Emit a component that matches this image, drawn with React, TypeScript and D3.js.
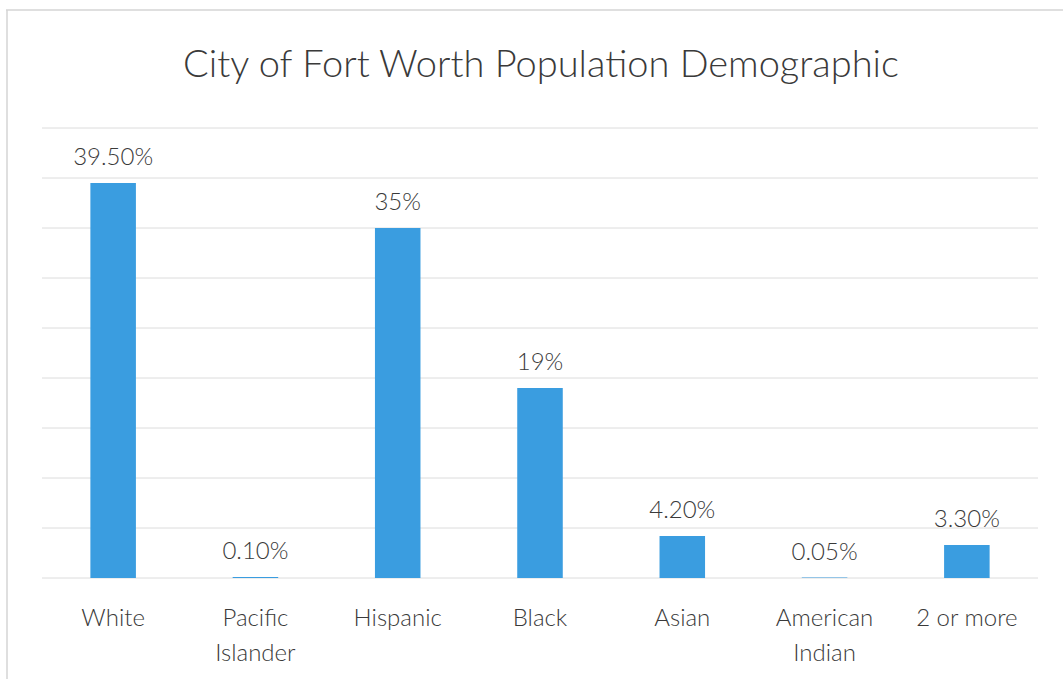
import React from "react";
import * as d3 from "d3";

const categories: string[][] = [
  ["White"],
  ["Pacific", "Islander"],
  ["Hispanic"],
  ["Black"],
  ["Asian"],
  ["American", "Indian"],
  ["2 or more"],
];
const values: number[] = [39.5, 0.1, 35, 19, 4.2, 0.05, 3.3];
const valueLabels: string[] = ["39.50%", "0.10%", "35%", "19%", "4.20%", "0.05%", "3.30%"];
const gridTicks: number[] = [0, 5, 10, 15, 20, 25, 30, 35, 40, 45];
const title = "City of Fort Worth Population Demographic";

const W = 1063;
const H = 679;
const plot = { left: 42, right: 1038, top: 128, bottom: 578 };
const font = "Lato, 'Open Sans', sans-serif";
const textColor = "#3a3a3a";
const barColor = "#3a9de0";

export default function App() {
  const keys = categories.map((c) => c.join(" "));
  const x = d3
    .scaleBand<string>()
    .domain(keys)
    .range([plot.left, plot.right])
    .paddingInner(0.68)
    .paddingOuter(0.34);
  const y = d3.scaleLinear().domain([0, 45]).range([plot.bottom, plot.top]);

  return (
    <svg
      width={W}
      height={H}
      style={{ position: "absolute", left: 0, top: 0, background: "#fff" }}
    >
      <rect x={0} y={0} width={W} height={H} fill="#fff" />
      <line x1={6} x2={W} y1={10} y2={10} stroke="#d4d4d4" strokeWidth={1.5} />
      <line x1={7} x2={7} y1={10} y2={H} stroke="#d4d4d4" strokeWidth={1.5} />
      <text
        x={541}
        y={77}
        textAnchor="middle"
        fontFamily={font}
        fontSize={38}
        fontWeight={300}
        fill={textColor}
      >
        {title}
      </text>
      {gridTicks.map((t) => (
        <line
          key={t}
          x1={plot.left}
          x2={plot.right}
          y1={y(t)}
          y2={y(t)}
          stroke="#dcdcdc"
          strokeWidth={1}
        />
      ))}
      {values.map((v, i) => {
        const k = keys[i];
        const bx = x(k)!;
        const bw = x.bandwidth();
        return (
          <g key={k}>
            <rect x={bx} y={y(v)} width={bw} height={y(0) - y(v)} fill={barColor} />
            <text
              x={bx + bw / 2}
              y={y(v) - 18}
              textAnchor="middle"
              fontFamily={font}
              fontSize={24}
              fontWeight={300}
              fill={textColor}
            >
              {valueLabels[i]}
            </text>
            {categories[i].map((line, j) => (
              <text
                key={j}
                x={bx + bw / 2}
                y={626 + j * 35}
                textAnchor="middle"
                fontFamily={font}
                fontSize={24}
                fontWeight={300}
                fill={textColor}
              >
                {line}
              </text>
            ))}
          </g>
        );
      })}
    </svg>
  );
}
